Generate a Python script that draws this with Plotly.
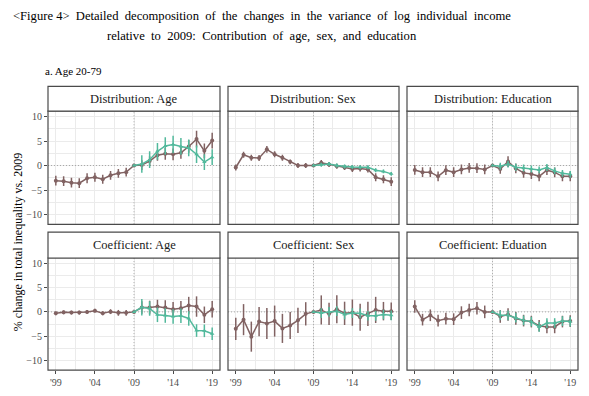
import plotly.graph_objects as go

# ---------------- data ----------------
YEARS_ALL = list(range(1999, 2020))
YEARS_NEW = list(range(2009, 2020))
XTICK_VALS = [1999, 2004, 2009, 2014, 2019]
XTICK_TEXT = ["'99", "'04", "'09", "'14", "'19"]
YTICK_VALS = [-10, -5, 0, 5, 10]

PANEL_TITLES = ["Distribution: Age", "Distribution: Sex", "Distribution: Education",
                "Coefficient: Age", "Coefficient: Sex", "Coefficient: Eduation"]

# Distribution: Age
dist_age_brown = [-3.1, -3.2, -3.5, -3.6, -2.6, -2.4, -2.8, -2.0, -1.6, -1.35, 0.0,
                  0.1, 0.9, 2.1, 2.4, 2.3, 2.6, 3.9, 5.4, 3.0, 5.1]
dist_age_brown_err = [1.0, 1.0, 1.0, 1.0, 1.0, 0.9, 0.9, 0.9, 0.9, 0.9, 0.0,
                      1.0, 1.0, 1.1, 1.2, 1.2, 1.2, 1.3, 1.7, 1.5, 1.6]
dist_age_teal = [0.0, 0.3, 1.2, 2.9, 4.0, 4.3, 3.9, 3.6, 2.3, 0.7, 1.7]
dist_age_teal_err = [0.0, 1.8, 1.7, 1.7, 1.8, 1.8, 1.7, 1.7, 1.8, 1.6, 1.6]

# Distribution: Sex
dist_sex_brown = [-0.4, 2.2, 1.6, 1.55, 3.3, 2.3, 1.6, 0.75, 0.0, 0.0, 0.0,
                  0.55, 0.2, -0.15, -0.4, -0.7, -0.6, -0.8, -2.4, -2.8, -3.3]
dist_sex_brown_err = [0.6, 0.6, 0.6, 0.6, 0.7, 0.6, 0.6, 0.5, 0.5, 0.5, 0.0,
                      0.6, 0.5, 0.5, 0.5, 0.6, 0.6, 0.6, 0.8, 0.8, 0.9]
dist_sex_teal = [0.0, 0.15, 0.3, 0.0, -0.2, -0.3, -0.35, -0.35, -0.95, -1.2, -1.7]
dist_sex_teal_err = [0.0, 0.4, 0.4, 0.4, 0.4, 0.4, 0.4, 0.4, 0.4, 0.4, 0.4]

# Distribution: Education
dist_edu_brown = [-0.9, -1.35, -1.35, -2.2, -0.95, -1.35, -0.8, -0.5, -0.55, -0.8, 0.0,
                  -0.7, 0.8, -0.6, -1.5, -1.75, -2.2, -0.95, -1.4, -2.2, -2.2]
dist_edu_brown_err = [1.0, 1.0, 1.0, 1.0, 1.0, 1.0, 1.0, 1.0, 1.0, 1.0, 0.0,
                      1.0, 1.1, 1.0, 1.0, 1.0, 1.0, 1.0, 1.0, 1.0, 1.0]
dist_edu_teal = [0.0, -0.15, 0.3, -0.35, -0.5, -0.7, -0.9, -0.4, -1.1, -1.6, -1.8]
dist_edu_teal_err = [0.0, 0.7, 0.7, 0.7, 0.7, 0.7, 0.7, 0.7, 0.7, 0.7, 0.7]

# Coefficient: Age
coef_age_brown = [-0.3, -0.1, -0.15, -0.15, 0.0, 0.25, -0.3, 0.05, -0.2, -0.2, 0.0,
                  0.9, 0.9, 1.1, 0.9, 0.55, 0.75, 1.3, 1.1, -0.6, 0.55]
coef_age_brown_err = [0.4, 0.4, 0.4, 0.4, 0.4, 0.4, 0.4, 0.5, 0.6, 0.6, 0.0,
                      1.3, 1.4, 1.4, 1.5, 1.5, 1.5, 1.8, 2.1, 1.7, 1.7]
coef_age_teal = [0.0, 0.95, 0.7, -0.6, -0.75, -0.95, -0.8, -1.35, -3.85, -3.9, -4.5]
coef_age_teal_err = [0.0, 1.7, 1.5, 1.5, 1.5, 1.5, 1.5, 1.5, 1.3, 1.3, 1.3]

# Coefficient: Sex
coef_sex_brown = [-3.5, -1.6, -5.1, -2.0, -2.4, -1.9, -3.4, -2.8, -1.75, -0.4, 0.0,
                  0.4, -0.4, 0.55, -0.3, -0.15, -1.1, -0.4, 0.4, 0.15, 0.15]
coef_sex_brown_err = [2.3, 3.2, 3.1, 3.0, 3.2, 3.2, 3.0, 2.8, 2.6, 2.4, 0.0,
                      3.0, 2.3, 2.9, 2.4, 2.7, 2.8, 2.5, 2.7, 1.9, 1.8]
coef_sex_teal = [0.0, -0.25, 0.0, 0.15, -0.55, -0.25, -0.3, -0.8, -0.8, -0.55, -0.7]
coef_sex_teal_err = [0.0, 1.0, 1.0, 1.0, 1.0, 1.0, 1.0, 1.0, 1.0, 1.0, 1.0]

# Coefficient: Education
coef_edu_brown = [1.1, -1.6, -0.7, -1.8, -1.4, -1.5, -0.15, 0.4, 0.75, 0.0, 0.0,
                  -0.95, -0.55, -1.35, -1.8, -2.0, -2.85, -3.1, -3.1, -2.0, -1.9]
coef_edu_brown_err = [1.3, 1.2, 1.2, 1.2, 1.2, 1.2, 1.3, 1.3, 1.3, 1.3, 0.0,
                      1.3, 1.3, 1.3, 1.2, 1.2, 1.2, 1.3, 1.3, 1.2, 1.2]
coef_edu_teal = [0.0, -0.7, -0.7, -1.2, -1.75, -2.0, -3.1, -2.3, -2.3, -1.9, -2.0]
coef_edu_teal_err = [0.0, 1.0, 1.0, 1.0, 1.0, 1.0, 1.0, 1.0, 1.0, 1.0, 1.0]

PANELS = [
    (dist_age_brown, dist_age_brown_err, dist_age_teal, dist_age_teal_err),
    (dist_sex_brown, dist_sex_brown_err, dist_sex_teal, dist_sex_teal_err),
    (dist_edu_brown, dist_edu_brown_err, dist_edu_teal, dist_edu_teal_err),
    (coef_age_brown, coef_age_brown_err, coef_age_teal, coef_age_teal_err),
    (coef_sex_brown, coef_sex_brown_err, coef_sex_teal, coef_sex_teal_err),
    (coef_edu_brown, coef_edu_brown_err, coef_edu_teal, coef_edu_teal_err),
]

# ---------------- style / layout ----------------
OFF = 8            # page body margin
W, H = 573, 380    # figure size (fits the 589x396 window with body margin)
BROWN = "#816262"
TEAL = "#52b99c"
FONT = "Liberation Serif"
BORDER = "#4a4a4a"
GRID = "#ebebeb"
XR = [1998, 2020]
YR = [-12.0, 11.1]

# screen-pixel positions of the panels
COLS = [(48, 220), (228, 399), (407, 578)]
ROWS = [(112, 226, 87), (260, 373, 234)]  # plot top, plot bottom, strip top


def px(x):
    return (x - OFF) / W


def py(y):
    return 1 - (y - OFF) / H


fig = go.Figure()
shapes = []
annotations = []
layout = {}

for k, (b, be, t, te) in enumerate(PANELS):
    r, c = divmod(k, 3)
    x0, x1 = COLS[c]
    top, bot, stop = ROWS[r]
    sfx = "" if k == 0 else str(k + 1)
    xa, ya = "x" + sfx, "y" + sfx

    fig.add_trace(go.Scatter(
        x=YEARS_ALL, y=b, mode="lines+markers", xaxis=xa, yaxis=ya,
        line=dict(color=BROWN, width=1.5),
        marker=dict(color=BROWN, size=4, symbol="circle"),
        error_y=dict(type="data", array=be, visible=True, width=0, thickness=1.5, color=BROWN),
        showlegend=False, hoverinfo="skip"))
    fig.add_trace(go.Scatter(
        x=YEARS_NEW, y=t, mode="lines+markers", xaxis=xa, yaxis=ya,
        line=dict(color=TEAL, width=1.5),
        marker=dict(color=TEAL, size=4, symbol="triangle-up"),
        error_y=dict(type="data", array=te, visible=True, width=0, thickness=1.5, color=TEAL),
        showlegend=False, hoverinfo="skip"))

    layout["xaxis" + sfx] = dict(
        domain=[px(x0), px(x1)], range=XR, anchor=ya,
        tickmode="array", tickvals=XTICK_VALS, ticktext=XTICK_TEXT,
        showticklabels=(r == 1), ticks="outside" if r == 1 else "",
        ticklen=3, tickwidth=1, tickcolor=BORDER,
        tickfont=dict(family=FONT, size=10, color="#4d4d4d"),
        showgrid=True, gridcolor=GRID, gridwidth=1.1, zeroline=False,
        showline=False,
        minor=dict(tickvals=[2001.5, 2006.5, 2011.5, 2016.5], showgrid=True,
                   gridcolor=GRID, gridwidth=0.6, ticks=""),
    )
    layout["yaxis" + sfx] = dict(
        domain=[py(bot), py(top)], range=YR, anchor=xa,
        tickmode="array", tickvals=YTICK_VALS,
        showticklabels=(c == 0), ticks="outside" if c == 0 else "",
        ticklen=3, tickwidth=1, tickcolor=BORDER,
        tickfont=dict(family=FONT, size=10, color="#4d4d4d"),
        showgrid=True, gridcolor=GRID, gridwidth=1.1, zeroline=False,
        showline=False,
        minor=dict(tickvals=[-7.5, -2.5, 2.5, 7.5], showgrid=True,
                   gridcolor=GRID, gridwidth=0.6, ticks=""),
    )

    # dotted reference lines
    shapes.append(dict(type="line", xref=xa, yref=ya, x0=XR[0], x1=XR[1], y0=0, y1=0,
                       line=dict(color="#a8a8a8", width=1, dash="1px,2px"), layer="between"))
    shapes.append(dict(type="line", xref=xa, yref=ya, x0=2009, x1=2009, y0=YR[0], y1=YR[1],
                       line=dict(color="#a8a8a8", width=1, dash="1px,2px"), layer="between"))
    # panel border
    shapes.append(dict(type="rect", xref="paper", yref="paper",
                       x0=px(x0), x1=px(x1), y0=py(bot), y1=py(top),
                       line=dict(color=BORDER, width=1.2), layer="above"))
    # strip
    shapes.append(dict(type="rect", xref="paper", yref="paper",
                       x0=px(x0), x1=px(x1), y0=py(top), y1=py(stop),
                       fillcolor="white", line=dict(color=BORDER, width=1.2), layer="above"))
    annotations.append(dict(text=PANEL_TITLES[k], xref="paper", yref="paper",
                            x=px((x0 + x1) / 2), y=py((top + stop) / 2),
                            xanchor="center", yanchor="middle", showarrow=False,
                            font=dict(family=FONT, size=12.5, color="#1a1a1a")))

# titles
annotations.append(dict(
    text="&lt;Figure 4&gt;  Detailed  decomposition  of  the  changes  in  the  variance  of  log  individual  income",
    xref="paper", yref="paper", x=px(262), y=py(16), xanchor="center", yanchor="middle",
    showarrow=False, font=dict(family=FONT, size=12.6, color="black")))
annotations.append(dict(
    text="relative  to  2009:  Contribution  of  age,  sex,  and  education",
    xref="paper", yref="paper", x=px(262), y=py(36), xanchor="center", yanchor="middle",
    showarrow=False, font=dict(family=FONT, size=12.6, color="black")))
annotations.append(dict(
    text="a. Age 20-79", xref="paper", yref="paper", x=px(43), y=py(72),
    xanchor="left", yanchor="middle", showarrow=False,
    font=dict(family=FONT, size=11, color="black")))
annotations.append(dict(
    text="% change in total inequality vs. 2009", xref="paper", yref="paper",
    x=px(18), y=py(244), xanchor="center", yanchor="middle", textangle=-90,
    showarrow=False, font=dict(family=FONT, size=12, color="black")))

fig.update_layout(
    width=W, height=H, margin=dict(l=0, r=0, t=0, b=0),
    paper_bgcolor="white", plot_bgcolor="white",
    shapes=shapes, annotations=annotations, **layout)

fig.write_html("out.html")
